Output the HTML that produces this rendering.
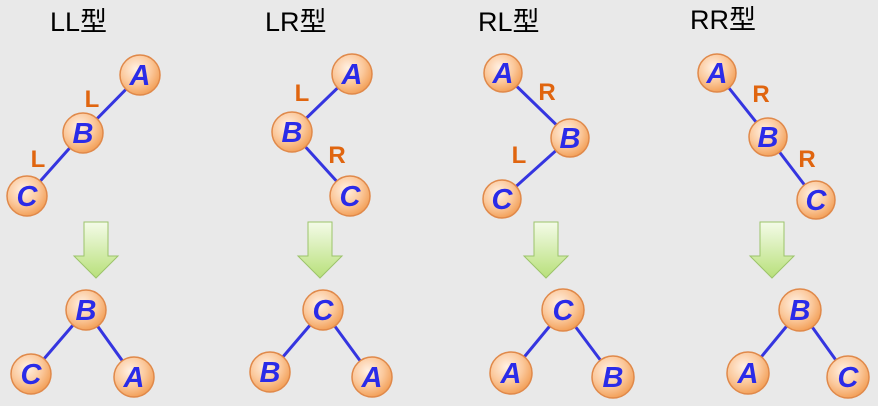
<!DOCTYPE html>
<html><head><meta charset="utf-8"><style>
html,body{margin:0;padding:0;background:#e9e9e9;}
svg{display:block}
.t{font-family:"Liberation Sans","Noto Sans CJK SC",sans-serif;font-size:27px;fill:#000}
.n{font-family:"Liberation Sans",sans-serif;font-weight:bold;font-style:italic;font-size:29px;fill:#2b2be8;text-anchor:middle}
.l{font-family:"Liberation Sans",sans-serif;font-weight:bold;font-size:24px;fill:#e0650f;text-anchor:middle}
line{stroke:#3535e0;stroke-width:3}
circle{fill:url(#g);stroke:#e0894a;stroke-width:1.5}
.ar{fill:url(#ag);stroke:#9cc46a;stroke-width:1}
</style></head><body>
<svg width="878" height="406" viewBox="0 0 878 406" xmlns="http://www.w3.org/2000/svg">
<defs>
<radialGradient id="g" cx="40%" cy="35%" r="65%"><stop offset="0" stop-color="#fff1e4"/><stop offset="0.6" stop-color="#fbc89b"/><stop offset="1" stop-color="#f3a25c"/></radialGradient>
<linearGradient id="ag" x1="0" y1="0" x2="0" y2="1"><stop offset="0" stop-color="#f4fbe8"/><stop offset="1" stop-color="#b8e07a"/></linearGradient>
<g id="arr"><path class="ar" d="M-12,0 H12 V34 H22 L0,56 L-22,34 H-12 Z"/></g>
</defs>
<text class="t" x="50" y="31">LL型</text>
<text class="t" x="265" y="31">LR型</text>
<text class="t" x="478" y="31">RL型</text>
<text class="t" x="690" y="29">RR型</text>

<!-- LL -->
<line x1="140" y1="75" x2="83" y2="133"/><line x1="83" y1="133" x2="27" y2="196"/>
<text class="l" x="92" y="107">L</text><text class="l" x="38" y="167">L</text>
<circle cx="140" cy="75" r="20"/><text class="n" x="140" y="85">A</text>
<circle cx="83" cy="133" r="20"/><text class="n" x="83" y="143">B</text>
<circle cx="27" cy="196" r="20"/><text class="n" x="27" y="206">C</text>
<use href="#arr" x="96" y="222"/>
<line x1="86" y1="310" x2="31" y2="374"/><line x1="86" y1="310" x2="134" y2="377"/>
<circle cx="86" cy="310" r="20"/><text class="n" x="86" y="320">B</text>
<circle cx="31" cy="374" r="20"/><text class="n" x="31" y="384">C</text>
<circle cx="134" cy="377" r="20"/><text class="n" x="134" y="387">A</text>

<!-- LR -->
<line x1="352" y1="74" x2="292" y2="132"/><line x1="292" y1="132" x2="350" y2="196"/>
<text class="l" x="302" y="101">L</text><text class="l" x="337" y="163">R</text>
<circle cx="352" cy="74" r="20"/><text class="n" x="352" y="84">A</text>
<circle cx="292" cy="132" r="20"/><text class="n" x="292" y="142">B</text>
<circle cx="350" cy="196" r="20"/><text class="n" x="350" y="206">C</text>
<use href="#arr" x="320" y="222"/>
<line x1="323" y1="310" x2="270" y2="372"/><line x1="323" y1="310" x2="372" y2="377"/>
<circle cx="323" cy="310" r="20"/><text class="n" x="323" y="320">C</text>
<circle cx="270" cy="372" r="20"/><text class="n" x="270" y="382">B</text>
<circle cx="372" cy="377" r="20"/><text class="n" x="372" y="387">A</text>

<!-- RL -->
<line x1="503" y1="73" x2="570" y2="138"/><line x1="570" y1="138" x2="502" y2="199"/>
<text class="l" x="547" y="100">R</text><text class="l" x="519" y="163">L</text>
<circle cx="503" cy="73" r="19"/><text class="n" x="503" y="83">A</text>
<circle cx="570" cy="138" r="19"/><text class="n" x="570" y="148">B</text>
<circle cx="502" cy="199" r="19"/><text class="n" x="502" y="209">C</text>
<use href="#arr" x="546" y="222"/>
<line x1="563" y1="310" x2="511" y2="373"/><line x1="563" y1="310" x2="613" y2="377"/>
<circle cx="563" cy="310" r="21"/><text class="n" x="563" y="320">C</text>
<circle cx="511" cy="373" r="21"/><text class="n" x="511" y="383">A</text>
<circle cx="613" cy="377" r="21"/><text class="n" x="613" y="387">B</text>

<!-- RR -->
<line x1="717" y1="73" x2="768" y2="137"/><line x1="768" y1="137" x2="816" y2="200"/>
<text class="l" x="761" y="102">R</text><text class="l" x="807" y="167">R</text>
<circle cx="717" cy="73" r="19"/><text class="n" x="717" y="83">A</text>
<circle cx="768" cy="137" r="19"/><text class="n" x="768" y="147">B</text>
<circle cx="816" cy="200" r="19"/><text class="n" x="816" y="210">C</text>
<use href="#arr" x="772" y="222"/>
<line x1="800" y1="310" x2="748" y2="373"/><line x1="800" y1="310" x2="848" y2="377"/>
<circle cx="800" cy="310" r="21"/><text class="n" x="800" y="320">B</text>
<circle cx="748" cy="373" r="21"/><text class="n" x="748" y="383">A</text>
<circle cx="848" cy="377" r="21"/><text class="n" x="848" y="387">C</text>
</svg>
</body></html>
